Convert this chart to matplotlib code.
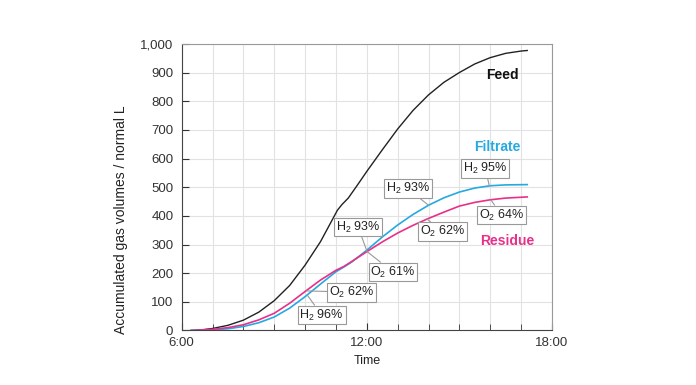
import matplotlib
matplotlib.use("Agg")
import matplotlib.pyplot as plt
from matplotlib.ticker import MultipleLocator, FuncFormatter

plt.rcParams['font.family'] = ['Liberation Sans', 'DejaVu Sans']
plt.rcParams['mathtext.fontset'] = 'custom'
plt.rcParams['mathtext.rm'] = 'Liberation Sans'
plt.rcParams['mathtext.it'] = 'Liberation Sans:italic'

# time in hours of day
feed_t = [6.3, 6.7, 7.0, 7.5, 8.0, 8.5, 9.0, 9.5, 10.0, 10.5, 10.8, 11.05, 11.2, 11.4,
          11.7, 12.0, 12.5, 13.0, 13.5, 14.0, 14.5, 15.0, 15.5, 16.0, 16.5, 17.0, 17.2]
feed_v = [0, 3, 7, 18, 36, 64, 104, 157, 228, 310, 370, 420, 440, 462,
          508, 555, 630, 703, 768, 822, 866, 900, 930, 952, 967, 975, 977]

filt_t = [6.3, 6.7, 7.0, 7.5, 8.0, 8.5, 9.0, 9.5, 10.0, 10.5, 11.0, 11.25, 11.5, 12.0,
          12.5, 13.0, 13.5, 14.0, 14.5, 15.0, 15.5, 16.0, 16.5, 17.2]
filt_v = [0, 1, 2, 6, 14, 27, 47, 78, 118, 162, 205, 221, 238, 280,
          326, 368, 405, 437, 463, 483, 497, 505, 508, 509]

res_t = [6.3, 6.7, 7.0, 7.5, 8.0, 8.5, 9.0, 9.5, 10.0, 10.5, 11.0, 11.25, 11.5, 12.0,
         12.5, 13.0, 13.5, 14.0, 14.5, 15.0, 15.5, 16.0, 16.5, 17.2]
res_v = [0, 2, 4, 10, 20, 37, 60, 95, 136, 176, 210, 223, 240, 275,
         309, 340, 367, 391, 413, 434, 447, 456, 462, 466]

# composition labels: text, point on curve, box centre
notes = [
    ("H$_2$ 96%", (10.08, 122), (10.54, 54)),
    ("O$_2$ 62%", (10.05, 138), (11.51, 134)),
    ("H$_2$ 93%", (12.0, 278), (11.72, 361)),
    ("O$_2$ 61%", (12.0, 276), (12.85, 204)),
    ("H$_2$ 93%", (14.0, 437), (13.34, 494)),
    ("O$_2$ 62%", (13.95, 389), (14.46, 344)),
    ("H$_2$ 95%", (15.97, 505), (15.84, 566)),
    ("O$_2$ 64%", (16.02, 456), (16.37, 403)),
]

blue = '#26a9e0'
pink = '#e8308a'

fig = plt.figure(figsize=(6.96, 3.85), dpi=100)
ax = fig.add_axes([0.261, 0.1416, 0.532, 0.7444])

ax.plot(feed_t, feed_v, color='#222222', lw=1.0)
ax.plot(filt_t, filt_v, color=blue, lw=1.2)
ax.plot(res_t, res_v, color=pink, lw=1.2)

for txt, pt, box in notes:
    ax.annotate(txt, xy=pt, xytext=box, ha='center', va='center', fontsize=9,
                color='#222222',
                bbox=dict(boxstyle='square,pad=0.15', fc='white', ec='#999999', lw=0.8),
                arrowprops=dict(arrowstyle='-', color='#999999', lw=0.8,
                                shrinkA=0, shrinkB=0))

ax.text(16.38, 891, 'Feed', color='#111111', fontsize=10, fontweight='bold',
        ha='center', va='center')
ax.text(16.22, 640, 'Filtrate', color=blue, fontsize=10, fontweight='bold',
        ha='center', va='center')
ax.text(16.55, 312, 'Residue', color=pink, fontsize=10, fontweight='bold',
        ha='center', va='center')

ax.set_xlim(6, 18)
ax.set_ylim(0, 1000)
ax.xaxis.set_major_locator(MultipleLocator(6))
ax.xaxis.set_minor_locator(MultipleLocator(1))
ax.yaxis.set_major_locator(MultipleLocator(100))
ax.xaxis.set_major_formatter(FuncFormatter(lambda v, p: '%d:00' % v))
ax.yaxis.set_major_formatter(FuncFormatter(lambda v, p: '{:,.0f}'.format(v)))

ax.grid(True, which='both', color='#e2e2e2', lw=0.8)
ax.set_axisbelow(True)
ax.tick_params(which='both', direction='in', colors='#333333', labelsize=9.5,
               top=False, right=False)
ax.tick_params(which='major', length=5)
ax.tick_params(which='minor', length=4)
ax.tick_params(axis='y', pad=6)
ax.tick_params(axis='x', pad=5)
for s in ['left', 'bottom']:
    ax.spines[s].set_color('#444444')
for s in ['top', 'right']:
    ax.spines[s].set_color('#999999')

ax.set_xlabel('Time', fontsize=9, color='#222222')
ax.set_ylabel('Accumulated gas volumes / normal L', fontsize=10, color='#222222')
ax.yaxis.set_label_coords(-0.145, 0.386)

fig.savefig('out.png', dpi=100)
